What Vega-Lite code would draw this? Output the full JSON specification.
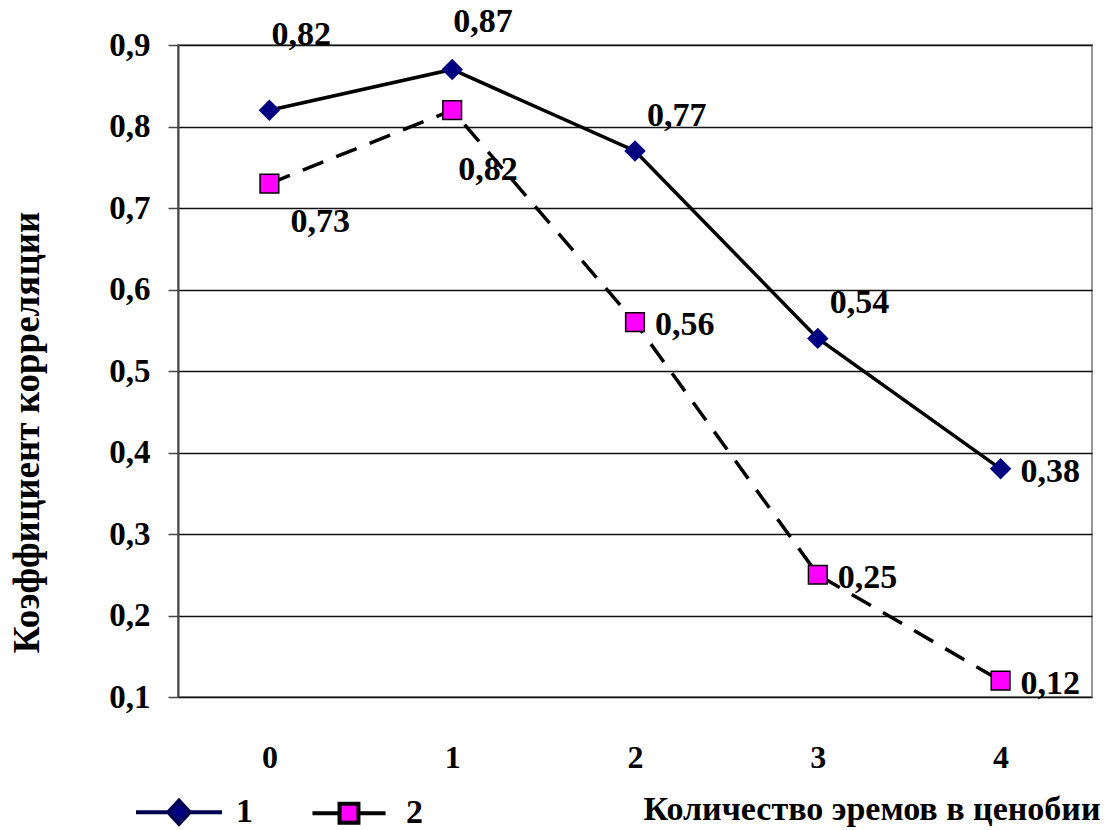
{
  "$schema": "https://vega.github.io/schema/vega-lite/v6.json",
  "width": 914,
  "height": 652,
  "autosize": {"type": "none"},
  "padding": {"left": 178, "top": 45, "right": 18, "bottom": 133},
  "background": "white",
  "config": {
    "locale": {"number": {"decimal": ",", "thousands": " ", "grouping": [3], "currency": ["", ""]}},
    "font": "Liberation Serif",
    "view": {"stroke": "#999999", "strokeWidth": 2},
    "axis": {"labelFont": "Liberation Serif", "titleFont": "Liberation Serif", "labelFontWeight": "bold", "titleFontWeight": "bold", "labelColor": "black", "titleColor": "black"},
    "legend": {"labelFont": "Liberation Serif", "labelFontWeight": "bold", "labelColor": "black"}
  },
  "data": {"values": [
    {"n": "0", "series": "1", "value": 0.82},
    {"n": "1", "series": "1", "value": 0.87},
    {"n": "2", "series": "1", "value": 0.77},
    {"n": "3", "series": "1", "value": 0.54},
    {"n": "4", "series": "1", "value": 0.38},
    {"n": "0", "series": "2", "value": 0.73},
    {"n": "1", "series": "2", "value": 0.82},
    {"n": "2", "series": "2", "value": 0.56},
    {"n": "3", "series": "2", "value": 0.25},
    {"n": "4", "series": "2", "value": 0.12}
  ]},
  "encoding": {
    "x": {"field": "n", "type": "ordinal", "sort": ["0", "1", "2", "3", "4"],
      "scale": {"type": "point", "padding": 0.5},
      "axis": {"labelAngle": 0, "ticks": false, "domain": false, "grid": false,
        "labelFontSize": 32, "labelPadding": 60, "labelBaseline": "middle",
        "title": "Количество эремов в ценобии", "titleFontSize": 34,
        "titleX": 922, "titleY": 112, "titleAlign": "right", "titleBaseline": "middle", "titleAnchor": "end"}},
    "y": {"field": "value", "type": "quantitative",
      "scale": {"domain": [0.1, 0.9], "nice": false, "zero": false},
      "axis": {"values": [0.1, 0.2, 0.3, 0.4, 0.5, 0.6, 0.7, 0.8, 0.9], "format": ".1f",
        "labelFontSize": 33, "labelPadding": 18, "tickSize": 10, "tickColor": "#444444", "tickWidth": 1.5,
        "domainColor": "#444444", "domainWidth": 2,
        "grid": true, "gridColor": "#111111", "gridWidth": 1.6,
        "title": "Коэффициент корреляции", "titleFontSize": 37, "titleAngle": 270,
        "titleX": -151, "titleY": 387, "titleAlign": "center", "titleBaseline": "middle"}}
  },
  "layer": [
    {"transform": [{"filter": "datum.series == '1'"}],
     "mark": {"type": "line", "color": "black", "strokeWidth": 3.5}},
    {"transform": [{"filter": "datum.series == '2'"}],
     "mark": {"type": "line", "color": "black", "strokeWidth": 3.5, "strokeDash": [22, 14]}},
    {"transform": [{"filter": "datum.series == '1'"}],
     "mark": {"type": "point", "shape": "diamond", "filled": true, "color": "#000080", "size": 460, "opacity": 1}},
    {"transform": [{"filter": "datum.series == '2'"}],
     "mark": {"type": "point", "shape": "square", "filled": true, "fill": "#FF00FF", "stroke": "black", "strokeWidth": 1.5, "size": 350, "opacity": 1}},
    {"mark": {"type": "point", "filled": true, "opacity": 0, "size": 7396},
     "encoding": {
       "color": {"field": "series", "type": "nominal", "scale": {"domain": ["1", "2"], "range": ["#000080", "#FF00FF"]},
         "legend": {"orient": "none", "legendX": -44, "legendY": 722, "direction": "horizontal", "title": null,
           "padding": 0, "columnPadding": 51, "labelFontSize": 34, "labelOffset": 12, "symbolSize": 7396, "symbolOpacity": 1,
           "symbolStrokeWidth": 4,
           "encode": {"symbols": {"update": {"opacity": {"value": 1}, "strokeWidth": {"value": 4},
             "stroke": {"signal": "datum.value == '1' ? '#000050' : '#000000'"}}}}}},
       "shape": {"field": "series", "type": "nominal", "scale": {"domain": ["1", "2"], "range": [
         "M-1,0L-0.25,0M0.25,0L1,0M-0.25,0L0,-0.27L0.25,0L0,0.27Z",
         "M-0.85,0L-0.22,0M0.22,0L0.85,0M-0.22,-0.22L0.22,-0.22L0.22,0.22L-0.22,0.22Z"]},
         "legend": {"orient": "none", "legendX": -44, "legendY": 722, "direction": "horizontal", "title": null,
           "padding": 0, "columnPadding": 51, "labelFontSize": 34, "labelOffset": 12, "symbolSize": 7396, "symbolOpacity": 1,
           "symbolStrokeWidth": 4,
           "encode": {"symbols": {"update": {"opacity": {"value": 1}, "strokeWidth": {"value": 4},
             "stroke": {"signal": "datum.value == '1' ? '#000050' : '#000000'"}}}}}}
     }},
    {"transform": [{"filter": "(datum.series == '1' && datum.n == '4') || (datum.series == '2' && (datum.n == '2' || datum.n == '3' || datum.n == '4'))"}],
     "mark": {"type": "text", "align": "left", "baseline": "middle", "dx": 20, "dy": 3, "fontSize": 34, "fontWeight": "bold", "font": "Liberation Serif", "color": "black"},
     "encoding": {"text": {"field": "value", "type": "quantitative", "format": ".2f"}}},
    {"transform": [{"filter": "datum.series == '1' && datum.n == '0'"}],
     "mark": {"type": "text", "align": "left", "baseline": "middle", "dx": 2, "dy": -75, "fontSize": 34, "fontWeight": "bold", "font": "Liberation Serif", "color": "black"},
     "encoding": {"text": {"field": "value", "type": "quantitative", "format": ".2f"}}},
    {"transform": [{"filter": "datum.series == '1' && datum.n == '1'"}],
     "mark": {"type": "text", "align": "left", "baseline": "middle", "dx": 1, "dy": -47, "fontSize": 34, "fontWeight": "bold", "font": "Liberation Serif", "color": "black"},
     "encoding": {"text": {"field": "value", "type": "quantitative", "format": ".2f"}}},
    {"transform": [{"filter": "datum.series == '1' && (datum.n == '2' || datum.n == '3')"}],
     "mark": {"type": "text", "align": "left", "baseline": "middle", "dx": 12, "dy": -35, "fontSize": 34, "fontWeight": "bold", "font": "Liberation Serif", "color": "black"},
     "encoding": {"text": {"field": "value", "type": "quantitative", "format": ".2f"}}},
    {"transform": [{"filter": "datum.series == '2' && datum.n == '0'"}],
     "mark": {"type": "text", "align": "left", "baseline": "middle", "dx": 21, "dy": 38, "fontSize": 34, "fontWeight": "bold", "font": "Liberation Serif", "color": "black"},
     "encoding": {"text": {"field": "value", "type": "quantitative", "format": ".2f"}}},
    {"transform": [{"filter": "datum.series == '2' && datum.n == '1'"}],
     "mark": {"type": "text", "align": "left", "baseline": "middle", "dx": 6, "dy": 60, "fontSize": 34, "fontWeight": "bold", "font": "Liberation Serif", "color": "black"},
     "encoding": {"text": {"field": "value", "type": "quantitative", "format": ".2f"}}}
  ]
}
